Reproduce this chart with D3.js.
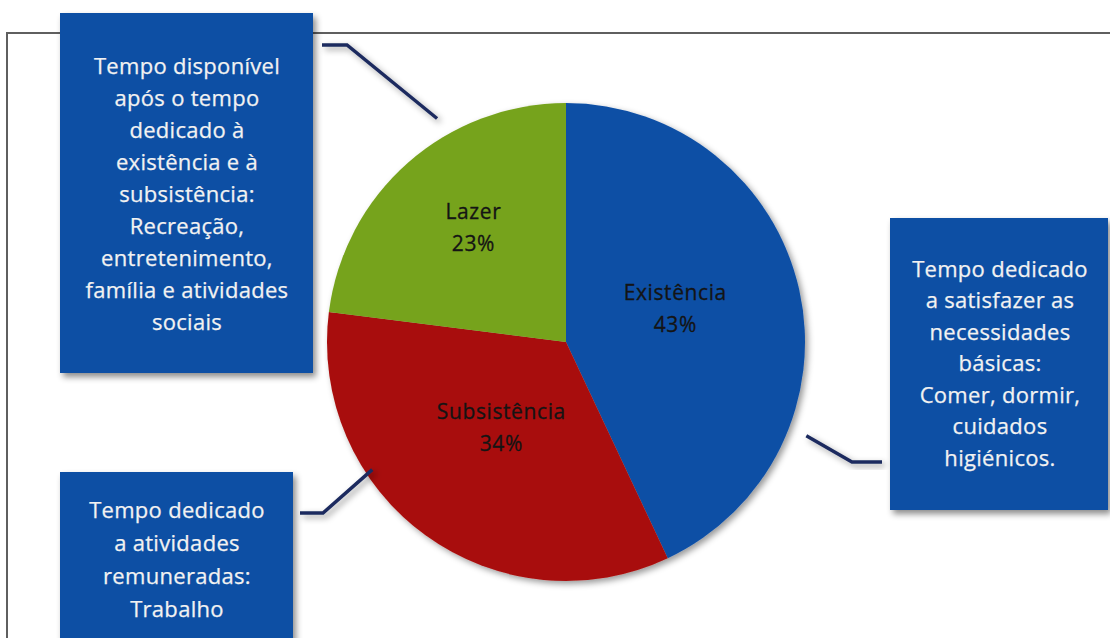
<!DOCTYPE html>
<html><head><meta charset="utf-8">
<script src="https://cdn.jsdelivr.net/npm/d3@7"></script>
<style>html,body{margin:0;padding:0;background:#fff;}svg{display:block;}</style>
</head><body>
<svg id="c" width="1110" height="638"></svg>
<script>
const categories = ["Existência", "Subsistência", "Lazer"];
const values = [43, 34, 23];
const colors = ["#0d4fa5", "#a80d0b", "#76a31d"];
const boxTexts = [
  ["Tempo dedicado", "a satisfazer as", "necessidades", "básicas:", "Comer, dormir,", "cuidados", "higiénicos."],
  ["Tempo dedicado", "a atividades", "remuneradas:", "Trabalho"],
  ["Tempo disponível", "após o tempo", "dedicado à", "existência e à", "subsistência:", "Recreação,", "entretenimento,", "família e atividades", "sociais"]
];

const FONT = "'Open Sans', Lato, sans-serif";
const svg = d3.select("#c");
const defs = svg.append("defs");
const f1 = defs.append("filter").attr("id","sh").attr("x","-20%").attr("y","-20%").attr("width","150%").attr("height","150%");
f1.append("feDropShadow").attr("dx",3).attr("dy",4).attr("stdDeviation",3).attr("flood-color","#000").attr("flood-opacity",0.45);
const f2 = defs.append("filter").attr("id","psh").attr("x","-20%").attr("y","-20%").attr("width","150%").attr("height","150%");
f2.append("feDropShadow").attr("dx",3).attr("dy",3).attr("stdDeviation",3).attr("flood-color","#000").attr("flood-opacity",0.4);

// outer frame
svg.append("rect").attr("x",7).attr("y",33).attr("width",1200).attr("height",700)
  .attr("fill","none").attr("stroke","#5f5f5f").attr("stroke-width",2);

const cx = 566, cy = 342, r = 239;
const pie = d3.pie().sort(null).value(d => d)(values);
const arc = d3.arc().innerRadius(0).outerRadius(r);
const labelRadii = [112, 110, 140];
const labelShiftY = [-9, -3, -9];
const g = svg.append("g").attr("transform",`translate(${cx},${cy})`);
g.append("g").attr("filter","url(#psh)").selectAll("path").data(pie).join("path")
  .attr("d",arc).attr("fill",(d,i)=>colors[i]);
const lab = g.selectAll("text.lab").data(pie).join("text").attr("class","lab")
  .attr("transform",(d,i)=>{
    const c = d3.arc().innerRadius(labelRadii[i]).outerRadius(labelRadii[i]).centroid(d);
    return `translate(${c[0]},${c[1]+labelShiftY[i]})`;
  })
  .attr("text-anchor","middle").attr("font-family",FONT)
  .attr("font-size",21).attr("letter-spacing",0.6).attr("fill","#141414")
  .attr("stroke","#141414").attr("stroke-width",0.3);
lab.append("tspan").attr("x",0).attr("y",-9).text((d,i)=>categories[i]);
lab.append("tspan").attr("x",0).attr("y",23).text((d,i)=>values[i]+"%");

// leader lines (anchored to pie edge via angle/radius)
function edgePt(a, rr){ return [cx + rr*Math.sin(a), cy - rr*Math.cos(a)]; }
const leaders = [
  [edgePt(1.943, 258), [852,462], [882,462]],
  [edgePt(4.13, 232), [323,513], [300,513]],
  [edgePt(5.76, 258), [347,45], [322,45]]
];
svg.selectAll("path.lead").data(leaders).join("path").attr("class","lead")
  .attr("d", d => d3.line()(d)).attr("fill","none").attr("stroke","#1c2b5e")
  .attr("stroke-width",3.5).attr("filter","url(#psh)");

// boxes
const boxes = [
  {x:890, y:218, w:218, h:292, tx:1000, ty:271, lh:31.5},
  {x:60, y:472, w:233, h:200, tx:177, ty:512, lh:33},
  {x:60, y:13, w:253, h:360, tx:187, ty:68, lh:32}
];
boxes.forEach((b,i)=>{
  svg.append("rect").attr("x",b.x).attr("y",b.y).attr("width",b.w).attr("height",b.h)
    .attr("fill","#0e4fa4").attr("filter","url(#sh)");
  const t = svg.append("text").attr("text-anchor","middle")
    .attr("font-family",FONT).attr("font-size",22).attr("letter-spacing",0.3).attr("fill","#f2f2f2")
    .attr("stroke","#f2f2f2").attr("stroke-width",0.25);
  boxTexts[i].forEach((s,j)=>{
    t.append("tspan").attr("x",b.tx).attr("y",b.ty + j*b.lh).attr("dominant-baseline","middle").text(s);
  });
});
</script>
</body></html>
